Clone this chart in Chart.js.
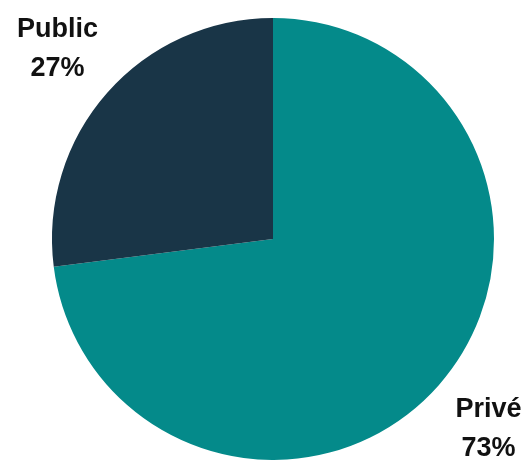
<!DOCTYPE html>
<html>
<head>
<meta charset="utf-8">
<script src="https://cdn.jsdelivr.net/npm/chart.js@4"></script>
<style>
  html, body { margin: 0; padding: 0; background: #ffffff; }
  #wrap { width: 523px; height: 460px; }
</style>
</head>
<body>
<div id="wrap"><canvas id="pieChart"></canvas></div>
<script>
// --- DATA ---
const categories = ['Privé', 'Public'];
const shares = [73, 27];
const sliceColors = ['#048a8a', '#193547'];

// --- PLUGIN: outside labels (name + percent) ---
const outsideLabels = {
    id: 'outsideLabels',
    afterDatasetsDraw(chart) {
        const ctx = chart.ctx;
        const meta = chart.getDatasetMeta(0);
        ctx.save();
        ctx.font = 'bold 27px "Liberation Sans", Arial, sans-serif';
        ctx.fillStyle = '#111111';
        ctx.textAlign = 'center';
        ctx.textBaseline = 'middle';
        meta.data.forEach((arc, i) => {
            const mid = (arc.startAngle + arc.endAngle) / 2;
            const r = arc.outerRadius * 1.3;
            const x = arc.x + Math.cos(mid) * r;
            const y = arc.y + Math.sin(mid) * r;
            ctx.fillText(categories[i], x, y - 19);
            ctx.fillText(shares[i] + '%', x, y + 20);
        });
        ctx.restore();
    }
};

const ctxPie = document.getElementById('pieChart').getContext('2d');
new Chart(ctxPie, {
    type: 'pie',
    data: {
        labels: categories,
        datasets: [{
            data: shares,
            backgroundColor: sliceColors,
            borderWidth: 0
        }]
    },
    options: {
        responsive: true,
        maintainAspectRatio: false,
        animation: false,
        layout: { padding: { left: 52, right: 29, top: 18, bottom: 0 } },
        plugins: {
            legend: { display: false },
            tooltip: { enabled: false }
        }
    },
    plugins: [outsideLabels]
});
</script>
</body>
</html>
